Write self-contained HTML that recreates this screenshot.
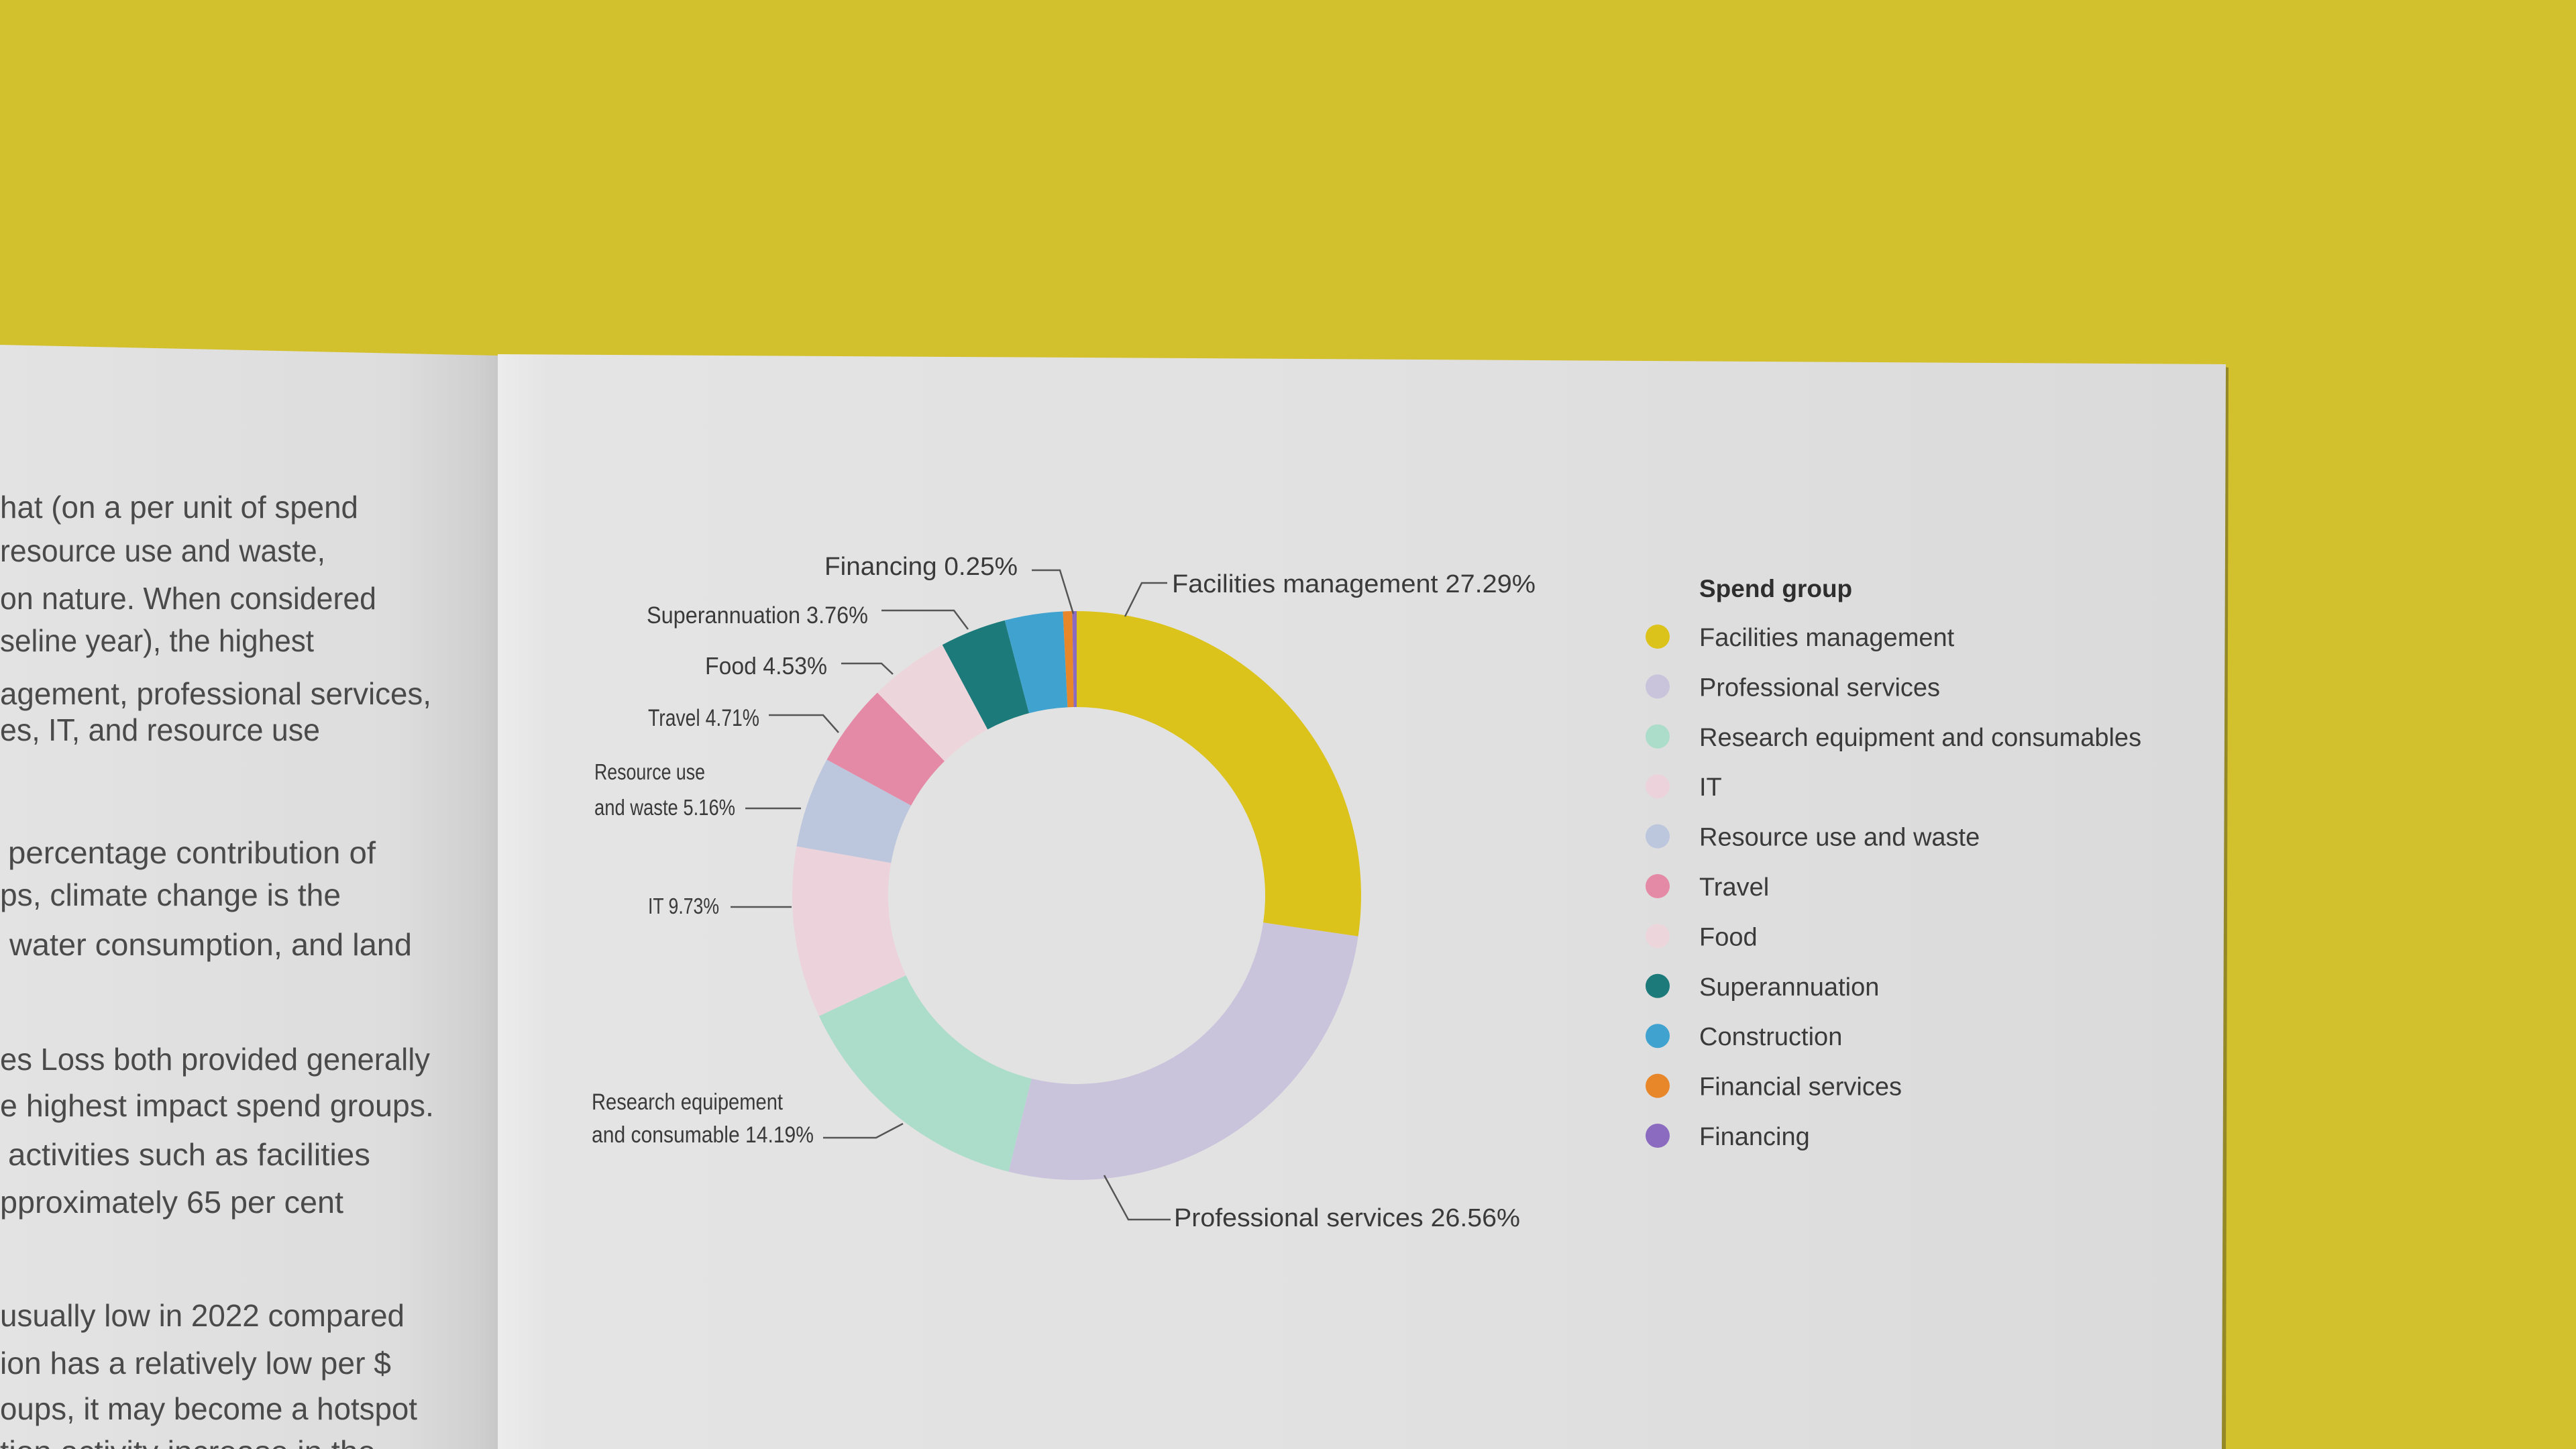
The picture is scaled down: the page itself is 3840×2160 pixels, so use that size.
<!DOCTYPE html>
<html><head><meta charset="utf-8"><style>
html,body{margin:0;padding:0;width:3840px;height:2160px;overflow:hidden;background:#d3c02d}
svg{display:block}
text{font-family:"Liberation Sans",sans-serif}
</style></head><body>
<svg id="root" width="3840" height="2160" viewBox="0 0 3840 2160">
<defs>
<linearGradient id="lp" x1="0" x2="1" y1="0" y2="0">
<stop offset="0" stop-color="#e3e3e3"/><stop offset="0.8" stop-color="#dddddd"/><stop offset="0.96" stop-color="#d0d0d0"/><stop offset="1" stop-color="#c8c8c8"/>
</linearGradient>
<linearGradient id="rp" x1="0" x2="1" y1="0" y2="0">
<stop offset="0" stop-color="#ececec"/><stop offset="0.03" stop-color="#e4e4e4"/><stop offset="0.5" stop-color="#e1e1e1"/><stop offset="1" stop-color="#dadada"/>
</linearGradient>
</defs>
<rect x="0" y="0" width="3840" height="2160" fill="#d3c02d"/>
<polygon points="3312,546 3322,548 3318,2160 3310,2160" fill="#4a4520" opacity="0.45"/>
<polygon points="0,514 742,530 742,2160 0,2160" fill="url(#lp)"/>
<polygon points="742,528 3318,543 3312,2160 742,2160" fill="url(#rp)"/>
<g fill="#4a4a4a" font-size="46">
<text x="0" y="772" textLength="534" lengthAdjust="spacingAndGlyphs">hat (on a per unit of spend</text>
<text x="0" y="837" textLength="485" lengthAdjust="spacingAndGlyphs">resource use and waste,</text>
<text x="0" y="908" textLength="561" lengthAdjust="spacingAndGlyphs">on nature. When considered</text>
<text x="0" y="971" textLength="468" lengthAdjust="spacingAndGlyphs">seline year), the highest</text>
<text x="0" y="1050" textLength="643" lengthAdjust="spacingAndGlyphs">agement, professional services,</text>
<text x="0" y="1104" textLength="477" lengthAdjust="spacingAndGlyphs">es, IT, and resource use</text>
<text x="12" y="1287" textLength="548" lengthAdjust="spacingAndGlyphs">percentage contribution of</text>
<text x="0" y="1350" textLength="508" lengthAdjust="spacingAndGlyphs">ps, climate change is the</text>
<text x="14" y="1424" textLength="600" lengthAdjust="spacingAndGlyphs">water consumption, and land</text>
<text x="0" y="1595" textLength="641" lengthAdjust="spacingAndGlyphs">es Loss both provided generally</text>
<text x="0" y="1664" textLength="647" lengthAdjust="spacingAndGlyphs">e highest impact spend groups.</text>
<text x="12" y="1737" textLength="540" lengthAdjust="spacingAndGlyphs">activities such as facilities</text>
<text x="0" y="1808" textLength="512" lengthAdjust="spacingAndGlyphs">pproximately 65 per cent</text>
<text x="0" y="1977" textLength="603" lengthAdjust="spacingAndGlyphs">usually low in 2022 compared</text>
<text x="0" y="2048" textLength="583" lengthAdjust="spacingAndGlyphs">ion has a relatively low per $</text>
<text x="0" y="2116" textLength="622" lengthAdjust="spacingAndGlyphs">oups, it may become a hotspot</text>
<text x="0" y="2180" textLength="560" lengthAdjust="spacingAndGlyphs">tion activity increase in the</text>
</g>
<g id="donut"></g>
<g id="labels" fill="#3a3a3a">
<g stroke="#555" stroke-width="2.5" fill="none">
<polyline points="1538,850 1580,850 1600,915"/>
<polyline points="1740,869 1702,869 1677,919"/>
<polyline points="1314,910 1422,910 1443,938"/>
<polyline points="1254,989 1314,989 1331,1005"/>
<polyline points="1146,1066 1227,1066 1250,1092"/>
<polyline points="1111,1205 1194,1205"/>
<polyline points="1089,1352 1180,1352"/>
<polyline points="1227,1696 1306,1696 1346,1675"/>
<polyline points="1646,1752 1682,1818 1745,1818"/>
</g>
<text x="1229" y="857" font-size="38" textLength="288" lengthAdjust="spacingAndGlyphs">Financing 0.25%</text>
<text x="1747" y="883" font-size="38" textLength="542" lengthAdjust="spacingAndGlyphs">Facilities management 27.29%</text>
<text x="964" y="929" font-size="35" textLength="330" lengthAdjust="spacingAndGlyphs">Superannuation 3.76%</text>
<text x="1051" y="1005" font-size="36" textLength="182" lengthAdjust="spacingAndGlyphs">Food 4.53%</text>
<text x="966" y="1082" font-size="35" textLength="166" lengthAdjust="spacingAndGlyphs">Travel 4.71%</text>
<text x="886" y="1162" font-size="33" textLength="165" lengthAdjust="spacingAndGlyphs">Resource use</text>
<text x="886" y="1215" font-size="33" textLength="210" lengthAdjust="spacingAndGlyphs">and waste 5.16%</text>
<text x="966" y="1362" font-size="33" textLength="106" lengthAdjust="spacingAndGlyphs">IT 9.73%</text>
<text x="882" y="1654" font-size="34" textLength="285" lengthAdjust="spacingAndGlyphs">Research equipement</text>
<text x="882" y="1703" font-size="34" textLength="331" lengthAdjust="spacingAndGlyphs">and consumable 14.19%</text>
<text x="1750" y="1828" font-size="38" textLength="516" lengthAdjust="spacingAndGlyphs">Professional services 26.56%</text>
</g>
<g id="legend">
<text x="2533" y="890" font-size="37" font-weight="bold" fill="#2e2e2e">Spend group</text>
</g>
</svg>
<script>
const categories = ["Facilities management","Professional services","Research equipment and consumables","IT","Resource use and waste","Travel","Food","Superannuation","Construction","Financial services","Financing"];
const values = [27.29,26.56,14.19,9.73,5.16,4.71,4.53,3.76,3.30,0.52,0.25];
const colors = ["#dcc31c","#c9c3dc","#acdcca","#ecd3db","#bcc6dc","#e58aa6","#ecd6dc","#1d7a7a","#3fa2cf","#e8862a","#8a6bbf"];
const legendLabels = categories;

const NS = "http://www.w3.org/2000/svg";
const cx = 1605, cy = 1335, R = 424, r = 281;
const total = values.reduce((a,b)=>a+b,0);
function angle(v){ return v/total*2*Math.PI - Math.PI/2; }
function pt(a,rad){ return [cx+rad*Math.cos(a), cy+rad*Math.sin(a)]; }
const donut = document.getElementById("donut");
let acc = 0;
values.forEach((v,i)=>{
  const a0 = angle(acc), a1 = angle(acc+v); acc += v;
  const large = (a1-a0) > Math.PI ? 1 : 0;
  const p0=pt(a0,R), p1=pt(a1,R), q1=pt(a1,r), q0=pt(a0,r);
  const d = `M${p0[0]},${p0[1]} A${R},${R} 0 ${large} 1 ${p1[0]},${p1[1]} L${q1[0]},${q1[1]} A${r},${r} 0 ${large} 0 ${q0[0]},${q0[1]} Z`;
  const path = document.createElementNS(NS,"path");
  path.setAttribute("d",d);
  path.setAttribute("fill",colors[i]);
  
  
  donut.appendChild(path);
});
const legend = document.getElementById("legend");
const legY0 = 949, legStep = 74.4;
legendLabels.forEach((lab,i)=>{
  const y = legY0 + i*legStep;
  const c = document.createElementNS(NS,"circle");
  c.setAttribute("cx",2471); c.setAttribute("cy",y); c.setAttribute("r",18);
  c.setAttribute("fill",colors[i]);
  
  
  legend.appendChild(c);
  const t = document.createElementNS(NS,"text");
  t.setAttribute("x",2533); t.setAttribute("y",y+14);
  t.setAttribute("font-size",38); t.setAttribute("fill","#3a3a3a");
  t.textContent = lab;
  
  
  legend.appendChild(t);
});
</script>
</body></html>
